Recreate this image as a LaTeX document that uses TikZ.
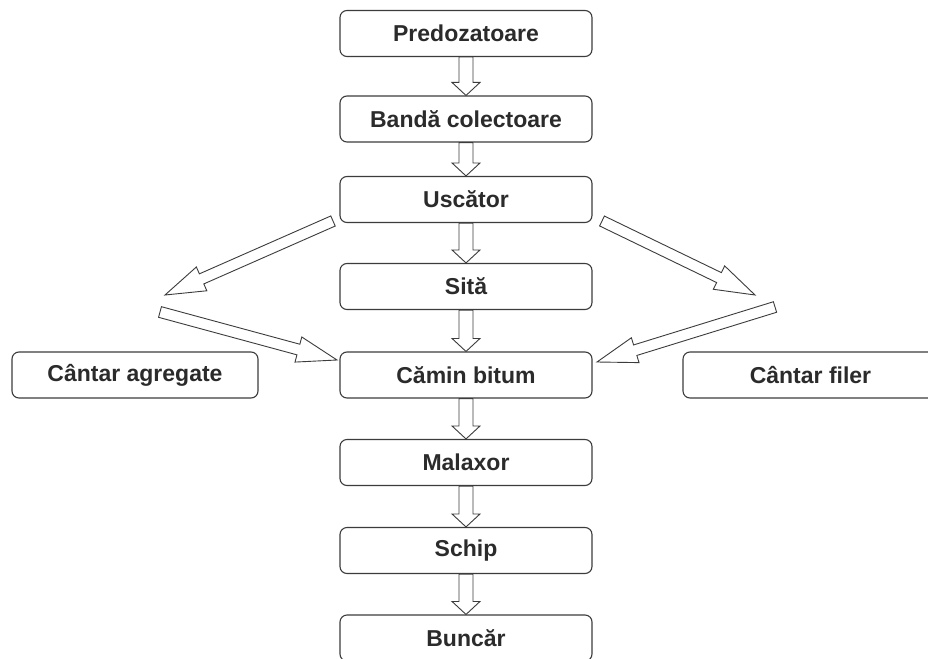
\documentclass[tikz,border=0pt]{standalone}
\usepackage{fontspec}
\setmainfont{Liberation Sans}
\usetikzlibrary{calc}
\definecolor{ink}{HTML}{3C3C3C}
\definecolor{txt}{HTML}{2B2B2B}
% hollow block arrow: from, to, shaft half width, head half width, head length
\newcommand\harrow[5]{%
  \path ($(#2)!#5!(#1)$) coordinate (hc);
  \draw[flowarrow] ($(#1)!#3!90:(#2)$) -- ($(hc)!#3!90:(#2)$) -- ($(hc)!#4!90:(#2)$) -- (#2)
    -- ($(hc)!#4!-90:(#2)$) -- ($(hc)!#3!-90:(#2)$) -- ($(#1)!#3!-90:(#2)$) -- cycle;}
\begin{document}
\begin{tikzpicture}[x=1pt,y=-1pt,
  box/.style={draw=ink, line width=1.1pt, rounded corners=7pt, fill=white,
    minimum height=46pt, text=txt, inner sep=0pt,
    font=\bfseries\fontsize{23}{26}\selectfont},
  mainbox/.style={box, minimum width=252pt},
  flowarrow/.style={draw=ink, line width=0.9pt, fill=white, line join=miter}]
\useasboundingbox (0,0) rectangle (928,658);
\clip (0,0) rectangle (928,658);
\fill[white] (0,0) rectangle (928,658);

\node[mainbox] (p) at (466,33.5) {Predozatoare};
\node[mainbox] (b) at (466,119) {Bandă colectoare};
\node[mainbox] (u) at (466,199.5) {Uscător};
\node[mainbox] (s) at (466,286.5) {Sită};
\node[mainbox] (c) at (466,375) {Cămin bitum};
\node[mainbox] (m) at (466,462.5) {Malaxor};
\node[mainbox] (sc) at (466,550.5) {Schip};
\node[mainbox] (bu) at (466,638) {Buncăr};
\node[box, minimum width=246pt] (ca) at (135,375) {Cântar agregate};
\node[box, minimum width=255pt] (cf) at (810.5,375) {Cântar filer};

\harrow{p.south}{b.north}{7pt}{14pt}{13pt}
\harrow{b.south}{u.north}{7pt}{14pt}{13pt}
\harrow{u.south}{s.north}{7pt}{14pt}{13pt}
\harrow{s.south}{c.north}{7pt}{14pt}{13pt}
\harrow{c.south}{m.north}{7pt}{14pt}{13pt}
\harrow{m.south}{sc.north}{7pt}{14pt}{13pt}
\harrow{sc.south}{bu.north}{7pt}{14pt}{13pt}

\coordinate (lut) at (333,221);
\coordinate (luh) at (165,295);
\coordinate (llt) at (160,312);
\coordinate (llh) at (337,360);
\coordinate (rut) at (602,221);
\coordinate (ruh) at (755,295);
\coordinate (rlt) at (775,307);
\coordinate (rlh) at (597,362);
\harrow{lut}{luh}{5.5pt}{13pt}{40pt}
\harrow{llt}{llh}{5.5pt}{13pt}{40pt}
\harrow{rut}{ruh}{5.5pt}{13pt}{40pt}
\harrow{rlt}{rlh}{5.5pt}{13pt}{40pt}
\end{tikzpicture}
\end{document}
